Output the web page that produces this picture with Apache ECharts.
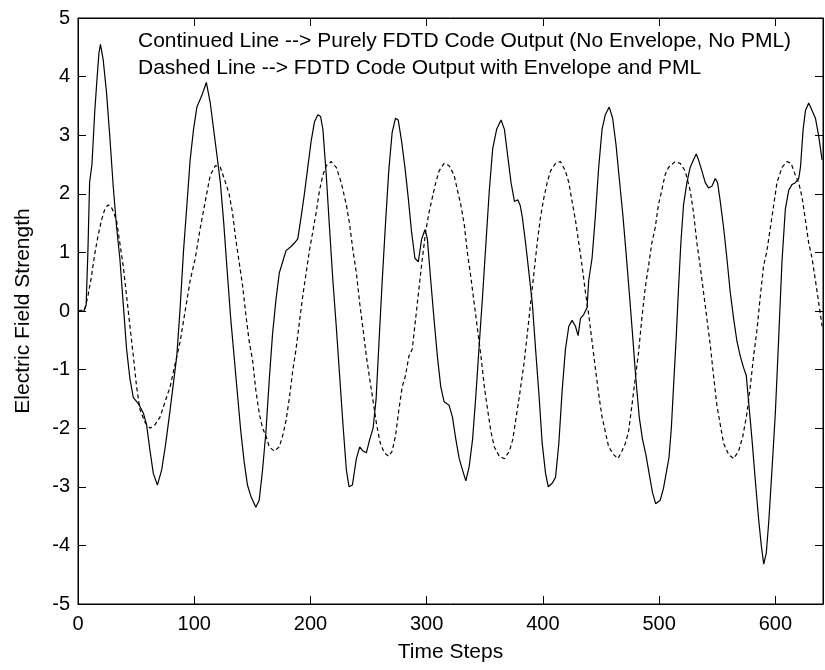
<!DOCTYPE html>
<html>
<head>
<meta charset="utf-8">
<script src="https://cdn.jsdelivr.net/npm/echarts@6/dist/echarts.min.js"></script>
<style>
html,body{margin:0;padding:0;background:#fff;}
#chart{width:825px;height:670px;}
</style>
</head>
<body>
<div id="chart"></div>
<script>
// Time steps and values of the solid curve (pure FDTD output)
var solidX = [0,5,7,8.5,10,12,14.4,16.5,18,19.3,21.6,24.5,27.4,30.3,33.1,36,38.9,41.8,44.7,47.6,51.9,56.2,59,62,64.8,68.3,72,75.5,79.3,82.1,85,87.9,90.8,93.7,96.5,99.4,102.3,106.6,110.4,113.8,116.7,119.6,122.5,125.4,128.3,131.4,134.3,137.2,140.1,143,145.8,148.7,153,155.9,158.8,161.7,164.6,167.4,170.3,173.2,176.1,179,183.3,186.2,189.1,192,194.8,197.7,200.6,203.5,206.4,208.7,210.7,213.6,216.4,219.3,222.2,225.1,228,230.9,233.2,236.1,239.5,242.4,245.3,248.1,251,253.9,256.5,258.8,261.7,264.6,267.4,270.3,273.2,275.5,278.4,281.3,284.1,287,289.9,292.8,295.7,298.6,300.6,303.5,306.3,309.2,312.1,315,319.3,322.2,325.1,328,330.8,333.7,336.6,339.5,342.4,345.2,348.1,351,353.9,356.8,360.2,364,366.9,369.7,372.6,375.5,378.4,380.5,382.3,385.1,388,390.9,393.7,396.6,399.4,402.3,404.6,408,410.9,413.7,416.6,419.4,422.3,425.1,428,430.3,432.3,435.1,438,439.4,442.3,445.1,448,450.9,453.7,457.1,460,462.9,465.7,468.6,471.4,474.3,477.1,480,482.9,485.7,488.6,491.4,494.3,497.1,500.9,503.7,506.6,508.5,510.5,512.4,514.7,516.7,518.7,521,523.9,526.7,529.6,531.9,533.9,536.8,539.7,542.5,545.4,548.3,550.3,552.6,555.5,558.3,561.2,564.1,567,569.8,572.7,575,577,579.9,582.8,585.6,587.9,590,592.2,594.5,597.1,600,602.9,605.7,608.6,611.5,614.4,617.2,620.1,621.6,623.9,625.9,628.7,631.6,634.5,637.4,640.2];
var solidY = [0,0,0.1,1.0,2.2,2.5,3.4,4.0,4.4,4.55,4.3,3.74,2.97,2.13,1.45,0.9,0.13,-0.65,-1.16,-1.48,-1.58,-1.74,-1.94,-2.39,-2.77,-2.97,-2.71,-2.26,-1.68,-1.23,-0.77,0.06,1.03,1.81,2.58,3.1,3.48,3.68,3.9,3.55,3.1,2.65,2.19,1.5,0.7,-0.13,-0.77,-1.42,-2.06,-2.58,-2.97,-3.16,-3.35,-3.23,-2.71,-2.06,-1.16,-0.39,0.19,0.65,0.84,1.03,1.1,1.16,1.23,1.61,2.0,2.45,2.9,3.23,3.35,3.32,3.1,2.32,1.42,0.52,-0.26,-1.1,-1.94,-2.71,-3.0,-2.97,-2.52,-2.32,-2.39,-2.42,-2.19,-2.0,-1.5,-0.6,0.5,1.5,2.4,3.05,3.29,3.26,2.9,2.45,1.94,1.35,0.9,0.84,1.23,1.39,1.23,0.52,-0.13,-0.77,-1.29,-1.55,-1.61,-1.81,-2.19,-2.52,-2.71,-2.9,-2.65,-2.19,-1.42,-0.58,0.26,1.16,2.06,2.77,3.1,3.26,3.1,2.65,2.19,1.87,1.9,1.8,1.6,1.16,0.65,0.13,-0.65,-1.42,-2.26,-2.77,-3.0,-2.94,-2.84,-2.26,-1.35,-0.65,-0.26,-0.16,-0.26,-0.42,-0.13,-0.06,0.06,0.52,0.9,1.61,2.45,3.1,3.35,3.48,3.29,2.84,2.26,1.68,1.03,0.32,-0.39,-1.16,-1.81,-2.19,-2.45,-2.77,-3.1,-3.29,-3.23,-3.03,-2.71,-2.5,-2.0,-1.29,-0.45,0.39,1.16,1.81,2.19,2.45,2.58,2.68,2.58,2.39,2.19,2.1,2.13,2.26,2.19,1.87,1.42,0.9,0.32,-0.13,-0.52,-0.77,-0.97,-1.1,-1.55,-2.19,-2.9,-3.55,-4.0,-4.32,-4.13,-3.55,-2.71,-1.74,-0.45,0.84,1.74,2.06,2.16,2.19,2.26,2.45,3.1,3.42,3.55,3.42,3.29,2.97,2.58];

// Time steps and values of the dashed curve (FDTD with envelope and PML)
var dashX = [0,5.8,8.6,11.5,14.4,17.3,20.2,23.1,25.9,28.5,30.3,33.1,36,38.9,41.8,44.7,47.6,50.4,53.3,57.6,62,66.3,70.6,74.9,79.3,83.6,87.9,92.2,96.5,100.9,105.2,109.5,113.8,118.2,122.5,126.8,130,132.9,135.7,138.6,141.5,144.4,147.3,150.2,153,155.9,158.8,161.7,164.6,168.9,173.2,176.1,179,181.9,184.7,187.6,190.5,193.4,196.3,199.1,202,204.9,207.8,210.7,213.6,217.9,222.2,226.5,230.9,233.7,236.6,239.5,242.4,245.3,248.1,251,254,257,260,263.5,267.4,270.3,273.2,276.1,279,281.8,284.7,287.6,290.5,293.4,296.3,299.1,302,304.9,307.8,310.7,315,319.3,323.6,326.5,329.4,332.3,335.2,338,340.9,343.8,346.7,349.6,352.4,355.3,358.2,362.5,366.9,371.2,374.1,377,380,383.7,386.6,389.4,392.3,395.1,398,400.9,403.7,406.6,410.9,415.1,419.4,422.3,425.1,428,430.9,433.7,436.6,439.4,442.3,445.1,448,450.9,453.7,456.6,460.9,464.6,468,470.9,473.7,476.6,479.4,482.3,485.1,488,490.9,493.7,496.6,499.4,502.3,505.1,508,513.8,518.1,522.4,526.7,529.6,532.5,535.3,538.2,541.1,544,546.8,549.7,552.6,555.5,559.8,564.1,568.4,572.1,575.6,578.4,581.3,584.2,587.1,589.9,592.8,595.7,598.6,601.4,605.7,610.1,613.5,617.2,620.1,623,625.9,628.7,631.6,634.5,637.4,640.2];
var dashY = [0,0.03,0.26,0.58,0.97,1.29,1.55,1.74,1.81,1.78,1.7,1.55,1.16,0.77,0.26,-0.26,-0.77,-1.29,-1.68,-1.9,-2.0,-1.94,-1.81,-1.55,-1.29,-0.9,-0.52,0,0.52,0.9,1.42,1.87,2.32,2.48,2.45,2.2,2.0,1.68,1.23,0.84,0.45,-0.06,-0.52,-0.84,-1.35,-1.74,-2.0,-2.13,-2.32,-2.39,-2.32,-2.13,-1.87,-1.48,-1.03,-0.65,-0.19,0.26,0.65,1.03,1.35,1.68,2.06,2.32,2.48,2.55,2.45,2.19,1.81,1.48,1.03,0.65,0.13,-0.32,-0.77,-1.16,-1.55,-1.95,-2.25,-2.42,-2.48,-2.39,-2.13,-1.68,-1.29,-1.1,-0.77,-0.65,-0.13,0.39,0.9,1.35,1.68,1.94,2.19,2.39,2.52,2.48,2.32,2.06,1.81,1.48,0.97,0.58,0.13,-0.32,-0.77,-1.29,-1.68,-2.06,-2.32,-2.48,-2.52,-2.39,-2.19,-1.81,-1.42,-0.9,-0.39,0.13,0.65,1.16,1.61,1.94,2.19,2.39,2.52,2.55,2.39,2.19,1.87,1.55,1.16,0.77,0.32,-0.06,-0.52,-0.97,-1.42,-1.81,-2.06,-2.32,-2.45,-2.52,-2.39,-2.26,-2.06,-1.61,-1.16,-0.71,-0.13,0.39,0.77,1.16,1.42,1.81,2.06,2.32,2.45,2.55,2.52,2.39,2.06,1.68,1.16,0.77,0.32,-0.13,-0.58,-1.1,-1.61,-1.94,-2.26,-2.45,-2.52,-2.39,-2.13,-1.74,-1.29,-0.77,-0.32,0.26,0.77,1.03,1.42,1.81,2.19,2.45,2.55,2.52,2.32,2.19,1.94,1.55,1.16,0.9,0.52,0.13,-0.26];

var xTicks = [0,100,200,300,400,500,600];
var yTicks = [-5,-4,-3,-2,-1,0,1,2,3,4,5];
var annotationLines = [
  'Continued Line --> Purely FDTD Code Output (No Envelope, No PML)',
  'Dashed Line --> FDTD Code Output with Envelope and PML'
];
var xName = 'Time Steps';
var yName = 'Electric Field Strength';

function pairs(xs, ys){ var out=[]; for(var i=0;i<xs.length;i++){ out.push([xs[i], ys[i]]); } return out; }

var FONT = 'Liberation Sans, Arial, sans-serif';
var chart = echarts.init(document.getElementById('chart'));
var xMin = xTicks[0], xMax = 641;
var yMin = yTicks[0], yMax = yTicks[yTicks.length-1];

chart.setOption({
  animation:false,
  grid:{left:78, right:2, top:18, bottom:66, show:true, borderColor:'#000', borderWidth:1},
  xAxis:[
    {type:'value', position:'bottom', min:xMin, max:xMax, interval:100,
     axisLine:{show:true, onZero:false, lineStyle:{color:'#000', width:1}},
     axisTick:{show:true, inside:true, length:8, lineStyle:{color:'#000', width:1}},
     splitLine:{show:false},
     axisLabel:{show:true, color:'#000', fontSize:20, fontFamily:FONT, margin:10, showMaxLabel:false,
       formatter:function(v){ return xTicks.indexOf(v) >= 0 ? String(v) : ''; }},
     name:xName, nameLocation:'middle', nameGap:38,
     nameTextStyle:{color:'#000', fontSize:21, fontFamily:FONT}},
    {type:'value', position:'top', min:xMin, max:xMax, interval:100,
     axisLine:{show:true, onZero:false, lineStyle:{color:'#000', width:1}},
     axisTick:{show:true, inside:true, length:8, lineStyle:{color:'#000', width:1}},
     splitLine:{show:false}, axisLabel:{show:false}}
  ],
  yAxis:[
    {type:'value', position:'left', min:yMin, max:yMax, interval:1,
     axisLine:{show:true, lineStyle:{color:'#000', width:1}},
     axisTick:{show:true, inside:true, length:8, lineStyle:{color:'#000', width:1}},
     splitLine:{show:false},
     axisLabel:{show:true, color:'#000', fontSize:20, fontFamily:FONT, margin:8},
     name:yName, nameLocation:'middle', nameGap:44,
     nameTextStyle:{color:'#000', fontSize:21, fontFamily:FONT}},
    {type:'value', position:'right', min:yMin, max:yMax, interval:1,
     axisLine:{show:true, onZero:false, lineStyle:{color:'#000', width:1}},
     axisTick:{show:true, inside:true, length:8, lineStyle:{color:'#000', width:1}},
     splitLine:{show:false}, axisLabel:{show:false}}
  ],
  series:[
    {type:'line', name:'solid', data:pairs(solidX, solidY), showSymbol:false, symbol:'none',
     lineStyle:{color:'#000', width:1.2, type:'solid'}, z:3},
    {type:'line', name:'dashed', data:pairs(dashX, dashY), showSymbol:false, symbol:'none',
     lineStyle:{color:'#000', width:1.2, type:[4,3]}, z:2}
  ],
  graphic:[
    {type:'text', left:138, top:31, style:{text:annotationLines[0], fill:'#000', font:'21px ' + FONT}},
    {type:'text', left:138, top:58, style:{text:annotationLines[1], fill:'#000', font:'21px ' + FONT}}
  ]
});
</script>
</body>
</html>
